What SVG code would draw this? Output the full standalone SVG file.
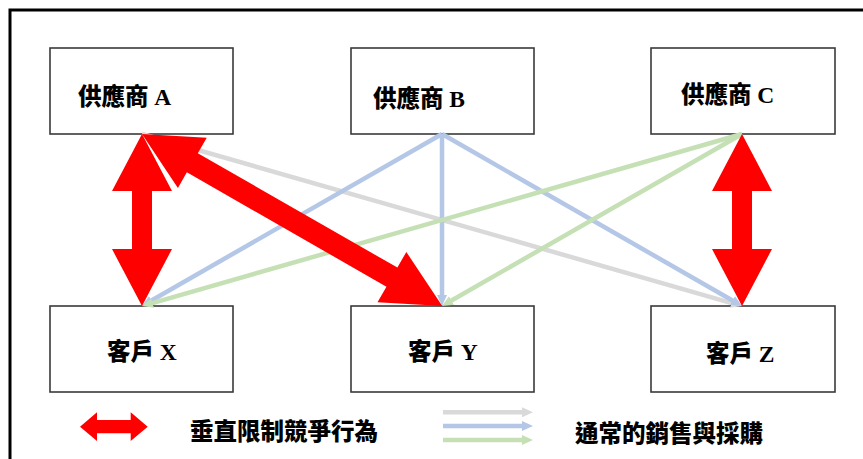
<svg xmlns="http://www.w3.org/2000/svg" width="863" height="459" viewBox="0 0 863 459">
<style>
.box{fill:#fff;stroke:#3a3a3a;stroke-width:1.6}
.lbl{font-family:"Liberation Serif","Noto Sans CJK TC",serif;font-weight:900;font-size:23.5px;fill:#000}
.leg{font-family:"Noto Sans CJK TC","Noto Sans CJK SC",sans-serif;font-weight:900;font-size:23.5px;fill:#000}
.g{stroke:#d9d9d9;stroke-width:4.5;fill:none}
.b{stroke:#b4c7e7;stroke-width:4.5;fill:none}
.gr{stroke:#c5e0b4;stroke-width:4.5;fill:none}
.red{fill:#ff0000}
</style>
<defs>
<marker id="mg" viewBox="0 0 11 10" refX="3" refY="5" markerWidth="11" markerHeight="10" markerUnits="userSpaceOnUse" orient="auto"><path d="M0,0 L11,5 L0,10 z" fill="#d9d9d9"/></marker>
<marker id="mb" viewBox="0 0 11 10" refX="3" refY="5" markerWidth="11" markerHeight="10" markerUnits="userSpaceOnUse" orient="auto"><path d="M0,0 L11,5 L0,10 z" fill="#b4c7e7"/></marker>
<marker id="mgr" viewBox="0 0 11 10" refX="3" refY="5" markerWidth="11" markerHeight="10" markerUnits="userSpaceOnUse" orient="auto"><path d="M0,0 L11,5 L0,10 z" fill="#c5e0b4"/></marker>
</defs>
<rect width="863" height="459" fill="#fff"/>
<rect x="10" y="10" width="900" height="500" fill="none" stroke="#000" stroke-width="3"/>

<g id="nodeA"><rect class="box" x="50" y="48" width="183" height="86"/><text class="lbl" x="78" y="105">供應商 A</text></g>
<g id="nodeB"><rect class="box" x="351" y="48" width="183" height="86"/><text class="lbl" x="373" y="107">供應商 B</text></g>
<g id="nodeC"><rect class="box" x="651" y="48" width="184" height="86"/><text class="lbl" x="681" y="103">供應商 C</text></g>
<g id="nodeX"><rect class="box" x="50" y="306" width="183" height="86"/><text class="lbl" x="107" y="360">客戶 X</text></g>
<g id="nodeY"><rect class="box" x="351" y="306" width="183" height="86"/><text class="lbl" x="408" y="360">客戶 Y</text></g>
<g id="nodeZ"><rect class="box" x="651" y="306" width="184" height="86"/><text class="lbl" x="706" y="362">客戶 Z</text></g>

<g id="connectors">
<line class="g" x1="142" y1="134" x2="734.3" y2="303.8" marker-end="url(#mg)"/>
<line class="b" x1="442" y1="134" x2="148.9" y2="302" marker-end="url(#mb)"/>
<line class="b" x1="442" y1="134" x2="442" y2="298" marker-end="url(#mb)"/>
<line class="b" x1="442" y1="134" x2="735.1" y2="302" marker-end="url(#mb)"/>
<line class="gr" x1="742" y1="134" x2="149.7" y2="303.8" marker-end="url(#mgr)"/>
<line class="gr" x1="742" y1="134" x2="448.9" y2="302" marker-end="url(#mgr)"/>
<polygon class="red" points="142,134 172,191 152,191 152,249 172,249 142,306 112,249 132,249 132,191 112,191"/>
<polygon class="red" points="742,134 772,191 752,191 752,249 772,249 742,306 712,249 732,249 732,191 712,191"/>
<polygon class="red" transform="translate(142,134) rotate(29.8)" points="0,0 58,-29 58,-11 288,-11 288,-29 346,0 288,29 288,11 58,11 58,29"/>
</g>

<g id="legend">
<polygon class="red" points="80,426.7 97,412.3 97,420 130.7,420 130.7,412.3 147.7,426.7 130.7,441 130.7,433.3 97,433.3 97,441"/>
<text class="leg" x="190" y="440">垂直限制競爭行為</text>
<line class="g" x1="443" y1="412.3" x2="525" y2="412.3" marker-end="url(#mg)"/>
<line class="b" x1="443" y1="426" x2="525" y2="426" marker-end="url(#mb)"/>
<line class="gr" x1="443" y1="440" x2="525" y2="440" marker-end="url(#mgr)"/>
<text class="leg" x="575" y="442">通常的銷售與採購</text>
</g>
</svg>
